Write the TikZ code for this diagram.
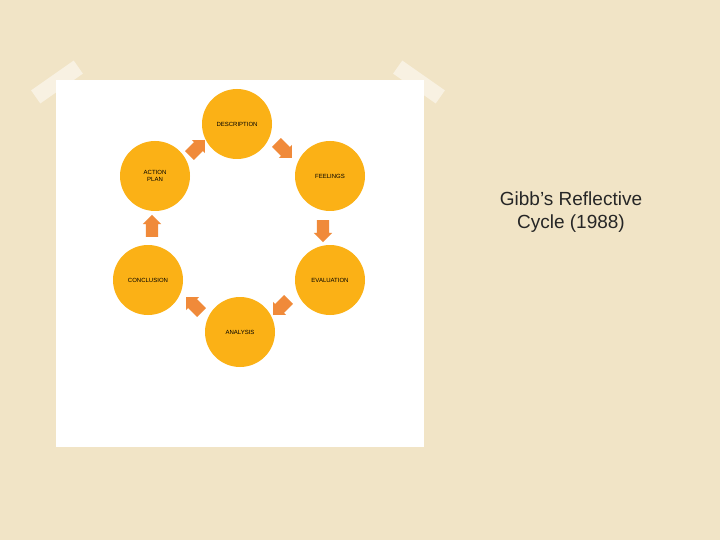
\documentclass[tikz,border=0pt]{standalone}
\usepackage{fontspec}
\setmainfont{Liberation Sans}
\usetikzlibrary{shapes.arrows}
\definecolor{bg}{HTML}{F1E4C6}
\definecolor{circ}{HTML}{FBB116}
\definecolor{arr}{HTML}{F08A3A}
\begin{document}
\begin{tikzpicture}[x=1pt,y=-1pt,
  stage/.style={circle,fill=circ,minimum size=70pt,inner sep=0pt,font=\fontsize{6}{6.5}\selectfont,align=center,text=black},
  blockarrow/.style={single arrow,fill=arr,inner sep=6pt,single arrow head extend=3pt,minimum height=22pt},
  tape/.style={fill=white,opacity=0.5,minimum width=52pt,minimum height=16pt,inner sep=0pt}]
\useasboundingbox (0,0) rectangle (720,540);
\fill[bg] (0,0) rectangle (720,540);
\node[fill=white,minimum width=368pt,minimum height=367pt,inner sep=0pt] (panel) at (240,263.5) {};
\node[tape,rotate=35] (t1) at (57,82) {};
\node[tape,rotate=-35] (t2) at (419,82) {};
\node[stage] (d) at (237,124) {DESCRIPTION};
\node[stage] (f) at (330,176) {FEELINGS};
\node[stage] (e) at (330,280) {EVALUATION};
\node[stage] (a) at (240,332) {ANALYSIS};
\node[stage] (c) at (148,280) {CONCLUSION};
\node[stage] (p) at (155,176) {ACTION\\PLAN};
\node[blockarrow,rotate=45] (a1) at (195,150) {};
\node[blockarrow,rotate=-45] (a2) at (282,148) {};
\node[blockarrow,rotate=-90] (a3) at (323,228) {};
\node[blockarrow,rotate=-135] (a4) at (283,305) {};
\node[blockarrow,rotate=135] (a5) at (196,307) {};
\node[blockarrow,rotate=90] (a6) at (152,229) {};
\node[font=\fontsize{19}{23}\selectfont,align=center,text=black!85] (title) at (571,212) {Gibb’s Reflective\\Cycle (1988)};
\end{tikzpicture}
\end{document}
